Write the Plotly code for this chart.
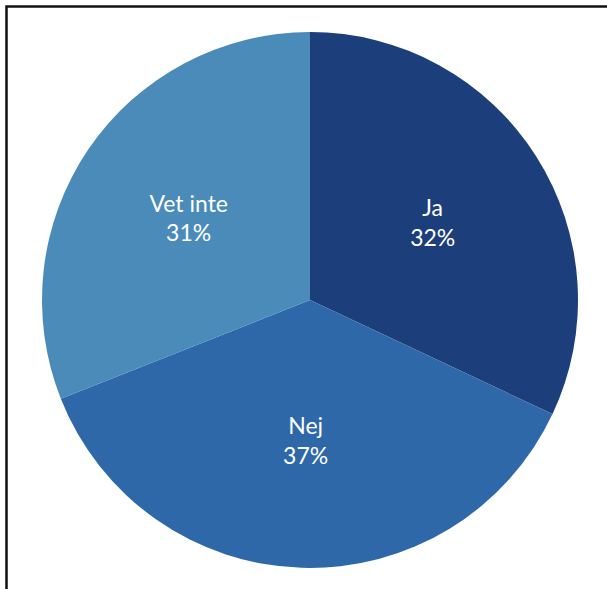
import plotly.graph_objects as go

labels = ["Ja", "Nej", "Vet inte"]
values = [32, 37, 31]
colors = ["#1c3f7c", "#2e68a8", "#4a8bb9"]

W, H = 607, 589
cx, cy, R = 310, 300, 268

fig = go.Figure(go.Pie(
    labels=labels,
    values=values,
    sort=False,
    direction="clockwise",
    rotation=0,
    marker=dict(colors=colors, line=dict(width=0)),
    texttemplate="%{label}<br>%{percent:.0%}",
    textposition="inside",
    insidetextorientation="horizontal",
    textfont=dict(family="Lato", size=23, color="white"),
    domain=dict(x=[(cx - R) / W, (cx + R) / W], y=[1 - (cy + R) / H, 1 - (cy - R) / H]),
    showlegend=False,
    hoverinfo="label+percent",
))

fig.update_layout(
    width=W, height=H,
    margin=dict(l=0, r=0, t=0, b=0),
    paper_bgcolor="white",
    plot_bgcolor="white",
    shapes=[dict(type="rect", xref="paper", yref="paper",
                 x0=6.5 / W, x1=1.2, y0=-0.2, y1=1 - 6.5 / H,
                 line=dict(color="#111111", width=2.5), fillcolor="rgba(0,0,0,0)")],
)

fig.write_html("out.html", config={"displayModeBar": False},
               post_script="document.body.style.margin='0';document.body.style.overflow='hidden';")
